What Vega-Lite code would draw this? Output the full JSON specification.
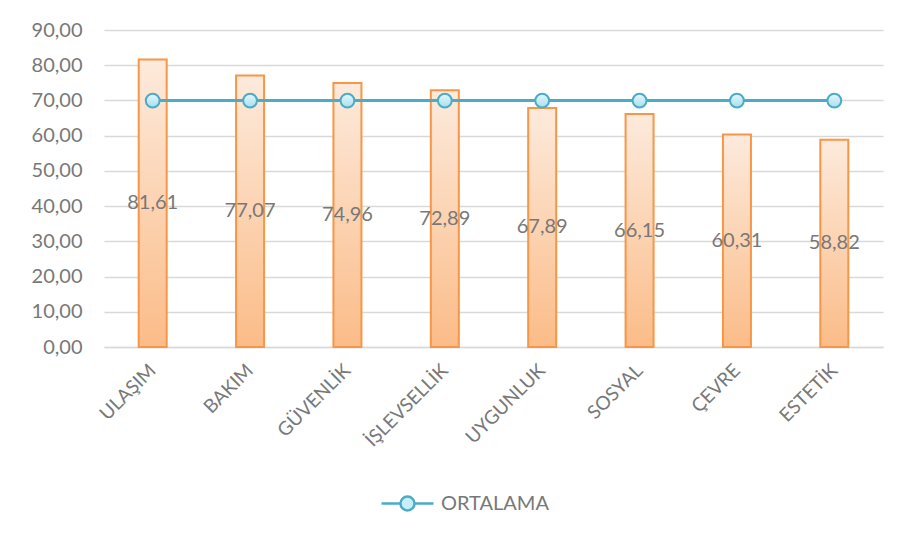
{
  "$schema": "https://vega.github.io/schema/vega-lite/v6.json",
  "width": 779,
  "height": 317,
  "autosize": {"type": "none"},
  "padding": {"left": 104, "top": 30, "right": 18, "bottom": 195},
  "config": {
    "locale": {"number": {"decimal": ",", "thousands": ".", "grouping": [3], "currency": ["", " ₺"]}},
    "view": {"stroke": null},
    "font": "Lato"
  },
  "data": {
    "values": [
      {"kategori": "ULAŞIM", "deger": 81.61, "ortalama": 69.96},
      {"kategori": "BAKIM", "deger": 77.07, "ortalama": 69.96},
      {"kategori": "GÜVENLİK", "deger": 74.96, "ortalama": 69.96},
      {"kategori": "İŞLEVSELLİK", "deger": 72.89, "ortalama": 69.96},
      {"kategori": "UYGUNLUK", "deger": 67.89, "ortalama": 69.96},
      {"kategori": "SOSYAL", "deger": 66.15, "ortalama": 69.96},
      {"kategori": "ÇEVRE", "deger": 60.31, "ortalama": 69.96},
      {"kategori": "ESTETİK", "deger": 58.82, "ortalama": 69.96}
    ]
  },
  "layer": [
    {
      "mark": {
        "type": "bar",
        "width": 28,
        "stroke": "#f79646",
        "strokeWidth": 2,
        "fill": {
          "gradient": "linear", "x1": 0, "y1": 0, "x2": 0, "y2": 1,
          "stops": [{"offset": 0, "color": "#fdeadc"}, {"offset": 1, "color": "#fbbc88"}]
        }
      },
      "encoding": {
        "x": {
          "field": "kategori", "type": "nominal", "sort": null,
          "axis": {
            "title": null, "ticks": false, "domainColor": "#d9d9d9", "domainWidth": 1.5,
            "labelAngle": -45, "labelAlign": "right", "labelBaseline": "middle",
            "labelPadding": 20, "labelFontSize": 19, "labelColor": "#787878", "labelFont": "Lato"
          }
        },
        "y": {
          "field": "deger", "type": "quantitative",
          "scale": {"domain": [0, 90], "nice": false},
          "axis": {
            "title": null, "values": [0, 10, 20, 30, 40, 50, 60, 70, 80, 90], "format": ".2f",
            "domain": false, "ticks": false, "gridColor": "#d9d9d9", "gridWidth": 1.5,
            "labelFontSize": 20, "labelColor": "#787878", "labelPadding": 22, "labelFont": "Lato"
          }
        }
      }
    },
    {
      "mark": {"type": "line", "strokeWidth": 3},
      "encoding": {
        "x": {"field": "kategori", "type": "nominal", "sort": null},
        "y": {"field": "ortalama", "type": "quantitative", "scale": {"domain": [0, 90], "nice": false}, "axis": null},
        "stroke": {
          "datum": "ORTALAMA",
          "scale": {"range": ["#4bacc6"]},
          "legend": {
            "title": null, "orient": "none", "legendX": 276, "legendY": 446,
            "symbolType": "M-1,0H-0.27M0.27,0H1M-0.27,0A0.27,0.27 0 1 1 0.27,0A0.27,0.27 0 1 1 -0.27,0Z",
            "symbolSize": 2704, "symbolStrokeWidth": 2.5,
            "labelFontSize": 20, "labelColor": "#787878", "labelFont": "Lato", "labelOffset": 6,
            "encode": {"symbols": {"update": {"fill": {"value": "#c8eef8"}, "stroke": {"value": "#4bacc6"}, "opacity": {"value": 1}}}}
          }
        }
      }
    },
    {
      "mark": {
        "type": "point", "filled": true, "size": 190, "strokeWidth": 2, "stroke": "#4bacc6", "opacity": 1,
        "fill": {
          "gradient": "linear", "x1": 0, "y1": 0, "x2": 0, "y2": 1,
          "stops": [{"offset": 0, "color": "#e6f7fc"}, {"offset": 1, "color": "#a6dff0"}]
        }
      },
      "encoding": {
        "x": {"field": "kategori", "type": "nominal", "sort": null},
        "y": {"field": "ortalama", "type": "quantitative", "scale": {"domain": [0, 90], "nice": false}, "axis": null}
      }
    },
    {
      "mark": {"type": "text", "fontSize": 20, "color": "#787878", "baseline": "middle", "align": "center", "font": "Lato"},
      "encoding": {
        "x": {"field": "kategori", "type": "nominal", "sort": null},
        "y": {"field": "deger", "type": "quantitative", "scale": {"domain": [0, 180], "nice": false}, "axis": null},
        "text": {"field": "deger", "type": "quantitative", "format": ".2f"}
      }
    }
  ],
  "resolve": {"scale": {"y": "independent"}}
}
